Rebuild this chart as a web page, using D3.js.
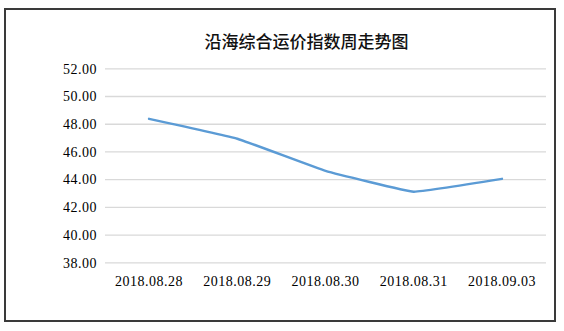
<!DOCTYPE html>
<html>
<head>
<meta charset="utf-8">
<script src="https://cdn.jsdelivr.net/npm/d3@7"></script>
<style>
  html, body { margin: 0; padding: 0; background: #fff; }
  svg { display: block; }
</style>
</head>
<body>
<svg id="chart" width="564" height="331"></svg>
<script>
// 沿海综合运价指数 — weekly values
const title = "沿海综合运价指数周走势图";
const dates = ["2018.08.28", "2018.08.29", "2018.08.30", "2018.08.31", "2018.09.03"];
const values = [48.35, 46.92, 44.60, 43.10, 44.02];
const yTicks = [38, 40, 42, 44, 46, 48, 50, 52];

const svg = d3.select("#chart");
const plot = { left: 105, right: 546, top: 68.3, bottom: 262.3 };

// outer frame
svg.append("rect")
  .attr("x", 5).attr("y", 9)
  .attr("width", 550).attr("height", 312)
  .attr("fill", "#fff")
  .attr("stroke", "#3a3a3a")
  .attr("stroke-width", 2);

const x = d3.scaleBand().domain(dates).range([plot.left, plot.right]).padding(0);
const y = d3.scaleLinear().domain([38, 52]).range([plot.bottom, plot.top]);

// title
svg.append("text")
  .attr("x", 306.5).attr("y", 48)
  .attr("text-anchor", "middle")
  .attr("font-family", "'Noto Sans CJK SC', sans-serif")
  .attr("font-size", 17)
  .attr("font-weight", 500)
  .attr("fill", "#111")
  .text(title);

// horizontal gridlines + y labels
const yAxis = d3.axisLeft(y)
  .tickValues(yTicks)
  .tickSize(-(plot.right - plot.left))
  .tickPadding(8)
  .tickFormat(d3.format(".2f"));

const gy = svg.append("g")
  .attr("transform", `translate(${plot.left},0)`)
  .call(yAxis);
gy.select(".domain").remove();
gy.selectAll(".tick line")
  .attr("stroke", "#d9d9d9")
  .attr("stroke-width", 1.3);
gy.selectAll(".tick text")
  .attr("font-family", "'Liberation Serif', serif")
  .attr("font-size", 14)
  .attr("letter-spacing", "0.5px")
  .attr("fill", "#000")
  .attr("dy", "0.34em");

// category labels
const xAxis = d3.axisBottom(x).tickSize(0).tickPadding(14);
const gx = svg.append("g")
  .attr("transform", `translate(0,${plot.bottom})`)
  .call(xAxis);
gx.select(".domain").remove();
gx.selectAll(".tick text")
  .attr("font-family", "'Liberation Serif', serif")
  .attr("font-size", 14)
  .attr("letter-spacing", "0.5px")
  .attr("fill", "#000");

// index line (lightly smoothed)
const line = d3.line()
  .x((d, i) => x(dates[i]) + x.bandwidth() / 2)
  .y(d => y(d))
  .curve(d3.curveCardinal.tension(0.75));

svg.append("path")
  .datum(values)
  .attr("fill", "none")
  .attr("stroke", "#5b9bd5")
  .attr("stroke-width", 2.5)
  .attr("stroke-linecap", "round")
  .attr("d", line);
</script>
</body>
</html>
